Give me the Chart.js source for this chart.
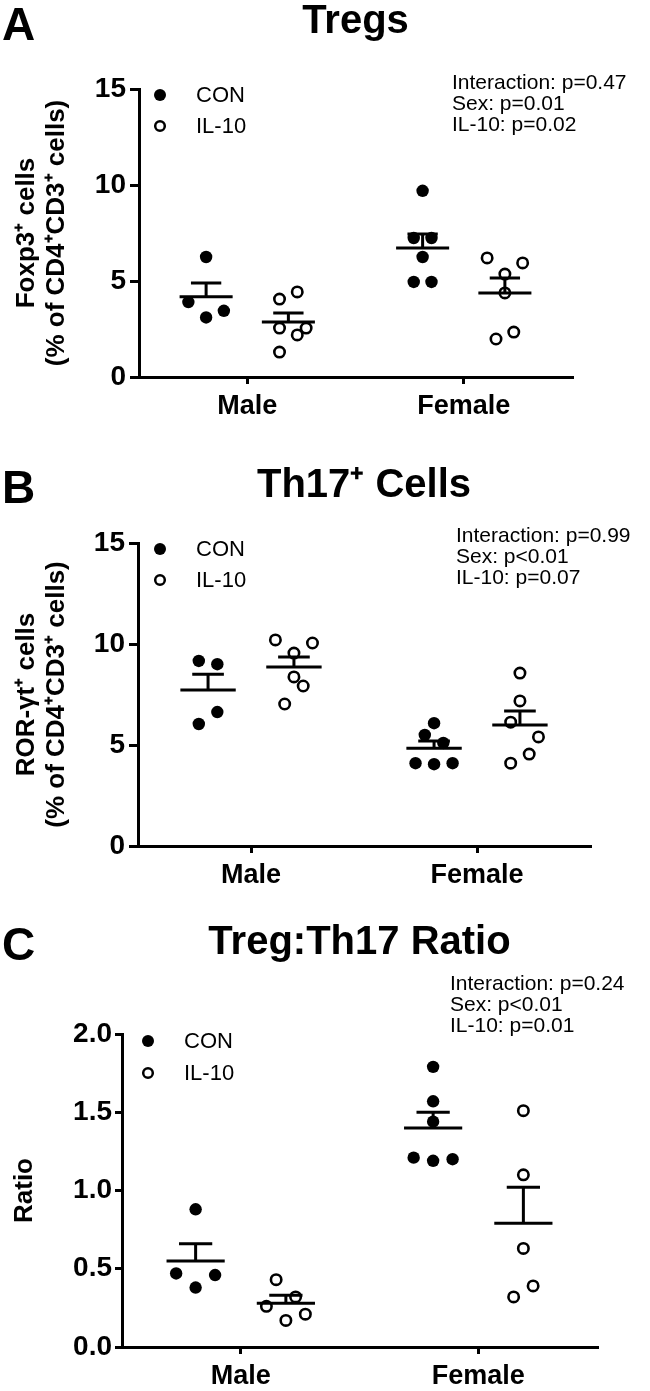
<!DOCTYPE html>
<html>
<head>
<meta charset="utf-8">
<script src="https://cdn.jsdelivr.net/npm/chart.js@4.4.1/dist/chart.umd.min.js"></script>
<style>
  html, body { margin: 0; padding: 0; background: #fff; }
  #wrap { position: relative; width: 650px; height: 1391px; }
  #wrap canvas { position: absolute; left: 0; top: 0; }
</style>
</head>
<body>
<div id="wrap">
  <canvas id="chartA" width="650" height="1391"></canvas>
  <canvas id="chartB" width="650" height="1391"></canvas>
  <canvas id="chartC" width="650" height="1391"></canvas>
</div>
<script>
const SEXES = ["Male", "Female"];
const GROUPS = ["CON", "IL-10"];

// Panel A - Tregs (Foxp3+ % of CD4+CD3+)
const tregsConMale = [6.25, 3.9, 3.1, 3.45];
const tregsIl10Male = [4.06, 4.43, 2.55, 2.55, 2.19, 1.3];
const tregsConFemale = [9.7, 7.24, 7.24, 6.25, 4.95, 4.95];
const tregsIl10Female = [6.2, 5.94, 5.36, 4.38, 1.98, 2.34];
const tregsMean = [4.18, 2.86, 6.72, 4.38];   // CON-M, IL10-M, CON-F, IL10-F
const tregsSem = [0.72, 0.47, 0.73, 0.78];
const tregsTicks = [0, 5, 10, 15];
const tregsStats = ["Interaction: p=0.47", "Sex: p=0.01", "IL-10: p=0.02"];

// Panel B - Th17 (ROR-gt+ % of CD4+CD3+)
const th17ConMale = [9.16, 9.0, 6.63, 6.04];
const th17Il10Male = [10.2, 10.05, 9.55, 8.37, 7.92, 7.03];
const th17ConFemale = [6.08, 5.5, 5.1, 4.1, 4.05, 4.1];
const th17Il10Female = [8.56, 7.18, 6.13, 5.4, 4.55, 4.1];
const th17Mean = [7.72, 8.86, 4.84, 5.99];
const th17Sem = [0.78, 0.5, 0.36, 0.69];
const th17Ticks = [0, 5, 10, 15];
const th17Stats = ["Interaction: p=0.99", "Sex: p<0.01", "IL-10: p=0.07"];

// Panel C - Treg:Th17 ratio
const ratioConMale = [0.88, 0.47, 0.46, 0.38];
const ratioIl10Male = [0.43, 0.32, 0.26, 0.21, 0.17];
const ratioConFemale = [1.79, 1.57, 1.44, 1.21, 1.19, 1.2];
const ratioIl10Female = [1.51, 1.1, 0.63, 0.39, 0.32];
const ratioMean = [0.55, 0.28, 1.4, 0.79];
const ratioSem = [0.11, 0.05, 0.1, 0.23];
const ratioTicks = [0, 0.5, 1, 1.5, 2];
const ratioStats = ["Interaction: p=0.24", "Sex: p<0.01", "IL-10: p=0.01"];

// horizontal scatter slots of each dot inside its column (dot-plot spread)
const tregsSlots = [[0, -2, 0, 2], [-1, 1, -1, 2, 1, -1], [0, -1, 1, 0, -1, 1], [-2, 2, 0, 0, -1, 1]];
const th17Slots = [[-1, 1, 1, -1], [-2, 2, 0, 0, 1, -1], [0, -1, 1, -2, 0, 2], [0, 0, -1, 2, 1, -1]];
const ratioSlots = [[0, -2, 2, 0], [-1, 1, -2, 2, 0], [0, 0, 0, -2, 0, 2], [0, 0, 0, 1, -1]];

const FONT = "'Liberation Sans', Arial, Helvetica, sans-serif";
const SEX_POS = [1, 3];
const GROUP_OFF = 0.38;
const SLOT = 0.082;
const MEAN_HALF = 0.245;
const CAP_HALF = 0.14;
const H = 1391;

function columnCenters() {
    return [SEX_POS[0] - GROUP_OFF, SEX_POS[0] + GROUP_OFF, SEX_POS[1] - GROUP_OFF, SEX_POS[1] + GROUP_OFF];
}

function dots(values, slots, center) {
    return values.map((v, i) => ({ x: center + slots[i] * SLOT, y: v }));
}

function meanSem(means, sems) {
    const centers = columnCenters();
    const out = [];
    means.forEach((m, i) => {
        const c = centers[i];
        const top = m + sems[i];
        out.push({ x: c - MEAN_HALF, y: m }, { x: c + MEAN_HALF, y: m }, { x: c, y: null });
        out.push({ x: c, y: m }, { x: c, y: top }, { x: c, y: null });
        out.push({ x: c - CAP_HALF, y: top }, { x: c + CAP_HALF, y: top }, { x: c, y: null });
    });
    return out;
}

function decorPlugin(p) {
    return {
        id: "decor" + p.letter,
        afterDraw(chart) {
            const ctx = chart.ctx;
            ctx.save();
            ctx.fillStyle = "#000";
            ctx.strokeStyle = "#000";
            ctx.font = "bold 46px " + FONT;
            ctx.textAlign = "left";
            ctx.textBaseline = "alphabetic";
            ctx.fillText(p.letter, 2, p.letterBase);

            ctx.font = "21px " + FONT;
            ctx.textBaseline = "middle";
            p.stats.forEach((s, i) => ctx.fillText(s, p.statsX, p.statsY[i]));

            ctx.font = "22px " + FONT;
            GROUPS.forEach((g, i) => {
                const y = p.legendY[i];
                ctx.beginPath();
                if (i === 0) {
                    ctx.arc(p.dotX, y, 6, 0, Math.PI * 2);
                    ctx.fill();
                } else {
                    ctx.lineWidth = 2.5;
                    ctx.arc(p.dotX, y, 4.8, 0, Math.PI * 2);
                    ctx.stroke();
                }
                ctx.fillText(g, p.textX, y + 1);
            });
            ctx.restore();
        }
    };
}

function makePanel(p) {
    const centers = columnCenters();
    const con = dots(p.groups[0], p.slots[0], centers[0]).concat(dots(p.groups[2], p.slots[2], centers[2]));
    const il10 = dots(p.groups[1], p.slots[1], centers[1]).concat(dots(p.groups[3], p.slots[3], centers[3]));
    const titleSize = 40;

    return new Chart(document.getElementById(p.canvas), {
        type: "scatter",
        data: {
            datasets: [
                {
                    type: "line", label: "mean", data: meanSem(p.mean, p.sem),
                    borderColor: "#000", borderWidth: 3, pointRadius: 0, spanGaps: false,
                    tension: 0, borderCapStyle: "butt", clip: false
                },
                {
                    label: GROUPS[0], data: con, pointStyle: "circle", pointRadius: 6.2,
                    pointBackgroundColor: "#000", pointBorderWidth: 0, clip: false
                },
                {
                    label: GROUPS[1], data: il10, pointStyle: "circle", pointRadius: 5.2,
                    pointBackgroundColor: "#fff", pointBorderColor: "#000", pointBorderWidth: 2.6, clip: false
                }
            ]
        },
        options: {
            responsive: false,
            animation: false,
            devicePixelRatio: 1,
            layout: { padding: { left: 0, right: 650 - p.right, top: 0, bottom: 0 } },
            plugins: {
                legend: { display: false },
                tooltip: { enabled: false },
                title: {
                    display: true, text: p.title, fullSize: false, color: "#000",
                    font: { family: FONT, size: titleSize, weight: "bold", lineHeight: 1 },
                    padding: { top: p.titleMid - titleSize / 2, bottom: p.top - p.titleMid - titleSize / 2 }
                }
            },
            scales: {
                x: {
                    type: "linear", min: 0, max: 4,
                    afterBuildTicks: s => { s.ticks = SEX_POS.map(v => ({ value: v })); },
                    afterFit: s => { s.height = H - p.bottom; },
                    ticks: {
                        callback: v => SEXES[SEX_POS.indexOf(v)], autoSkip: false, maxRotation: 0,
                        color: "#000", padding: 6, font: { family: FONT, size: 27, weight: "bold" }
                    },
                    grid: { drawOnChartArea: false, drawTicks: true, tickLength: 7, lineWidth: 3, color: "#000" },
                    border: { display: true, width: 3, color: "#000" }
                },
                y: {
                    type: "linear", min: p.ticks[0], max: p.ticks[p.ticks.length - 1],
                    afterBuildTicks: s => { s.ticks = p.ticks.map(v => ({ value: v })); },
                    afterFit: s => { s.width = p.left; },
                    ticks: {
                        callback: v => p.decimals ? v.toFixed(p.decimals) : String(v),
                        color: "#000", padding: p.tickPad, font: { family: FONT, size: 28, weight: "bold" }
                    },
                    grid: { drawOnChartArea: false, drawTicks: true, tickLength: p.tickLen, lineWidth: 3, color: "#000" },
                    border: { display: true, width: 3, color: "#000" },
                    title: {
                        display: true, text: p.yTitle, color: "#000",
                        font: { family: FONT, size: 26, weight: "bold", lineHeight: 1.15 },
                        padding: { top: p.yTitlePad, bottom: 0 }
                    }
                }
            }
        },
        plugins: [decorPlugin(p)]
    });
}

makePanel({
    canvas: "chartA", letter: "A", title: "Tregs",
    groups: [tregsConMale, tregsIl10Male, tregsConFemale, tregsIl10Female],
    slots: tregsSlots, mean: tregsMean, sem: tregsSem, ticks: tregsTicks, decimals: 0,
    stats: tregsStats, yTitle: ["Foxp3\u207A cells", "(% of CD4\u207ACD3\u207A cells)"],
    left: 139, right: 572, top: 89, bottom: 377, titleMid: 22, letterBase: 40,
    statsX: 452, statsY: [83, 104, 125], legendY: [95, 126], dotX: 160, textX: 196,
    tickLen: 9, tickPad: 4, yTitlePad: 12
});

makePanel({
    canvas: "chartB", letter: "B", title: "Th17\u207A Cells",
    groups: [th17ConMale, th17Il10Male, th17ConFemale, th17Il10Female],
    slots: th17Slots, mean: th17Mean, sem: th17Sem, ticks: th17Ticks, decimals: 0,
    stats: th17Stats, yTitle: ["ROR-\u03B3t\u207A cells", "(% of CD4\u207ACD3\u207A cells)"],
    left: 138, right: 590, top: 543, bottom: 846, titleMid: 486, letterBase: 503,
    statsX: 456, statsY: [536, 557, 578], legendY: [549, 580], dotX: 160, textX: 196,
    tickLen: 9, tickPad: 4, yTitlePad: 12
});

makePanel({
    canvas: "chartC", letter: "C", title: "Treg:Th17 Ratio",
    groups: [ratioConMale, ratioIl10Male, ratioConFemale, ratioIl10Female],
    slots: ratioSlots, mean: ratioMean, sem: ratioSem, ticks: ratioTicks, decimals: 1,
    stats: ratioStats, yTitle: "Ratio",
    left: 122, right: 597, top: 1034, bottom: 1347, titleMid: 943, letterBase: 960,
    statsX: 450, statsY: [984, 1005, 1026], legendY: [1041, 1073], dotX: 148, textX: 184,
    tickLen: 7, tickPad: 3, yTitlePad: 10
});
</script>
</body>
</html>
